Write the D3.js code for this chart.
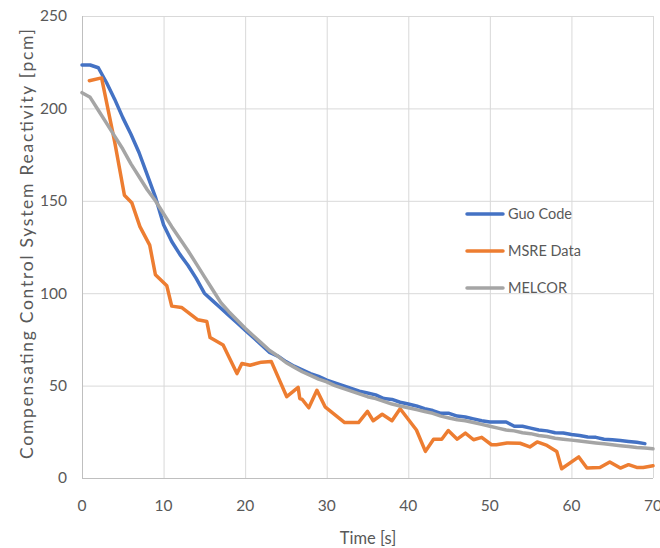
<!DOCTYPE html>
<html>
<head>
<meta charset="utf-8">
<script src="https://cdn.jsdelivr.net/npm/d3@7"></script>
<style>
  body { margin: 0; background: #fff; }
  text { font-family: Lato, "Open Sans", sans-serif; fill: #595959; }
</style>
</head>
<body>
<div id="chart"></div>
<script>
// Guo Code, sampled every second
const guoTime = d3.range(0, 70);
const guoValues = [223.5, 223.5, 222, 214, 205, 195, 186, 176, 164, 152,
  137, 128, 121, 115, 108, 100, 96, 92, 88, 84,
  80, 76, 72, 68, 66, 63, 60.5, 58.5, 56.5, 55,
  53, 51.5, 50, 48.5, 47, 46, 45, 43, 42.5, 41,
  40, 39, 37.5, 36.5, 35, 35, 33.5, 33, 32, 31,
  30.3, 30.3, 30.3, 28, 28, 27, 26, 25.5, 24.5, 24.3,
  23.5, 23, 22.2, 22, 21, 20.7, 20.3, 19.8, 19.3, 18.6];

// MELCOR
const melcorTime = d3.range(0, 71);
const melcorValues = [208.5, 206, 199, 192, 185, 178, 170, 163, 156, 150,
  143, 136, 129.5, 123, 116, 109, 102, 95, 90, 85.5,
  81, 77, 73, 69, 66, 62.5, 60, 57.5, 55.5, 53.5,
  52, 50, 48.5, 47, 45.5, 44, 43, 41.5, 40, 39,
  38, 37, 36, 35, 33.5, 32.5, 31.5, 31, 30, 29,
  28, 27, 26, 25.5, 24.5, 24, 23, 22.5, 21.5, 21,
  20.5, 20, 19.5, 19, 18.5, 18, 17.5, 17, 16.5, 16.2, 15.8];

// MSRE Data (irregular sampling)
const msreTime = [0.9, 2.4, 4.0, 5.2, 6.1, 7.1, 8.3, 9.0, 10.4, 11.0,
  12.2, 14.2, 15.3, 15.7, 17.3, 19.0, 19.6, 20.6, 22.0, 23.2,
  25.1, 26.5, 26.7, 27.0, 27.8, 28.8, 29.8, 32.2, 33.9, 35.0,
  35.7, 36.8, 38.0, 39.0, 41.0, 42.1, 43.1, 44.1, 44.9, 46.0,
  47.0, 48.0, 49.0, 50.2, 50.8, 52.1, 53.7, 54.9, 55.8, 57.0,
  58.2, 58.8, 60.9, 61.9, 63.5, 64.7, 66.0, 67.0, 68.0, 68.8, 70.0];
const msreValues = [215, 216.5, 182, 153, 149, 136, 126, 110, 104, 93,
  92.3, 85.6, 84.7, 76, 72, 56.5, 62, 61, 62.7, 63.1,
  44, 49, 43, 42.5, 38, 47.5, 38.5, 30, 30, 36,
  31, 34.5, 31, 37.5, 26, 14.4, 21, 21, 25.7, 21,
  24.3, 20.7, 22, 18, 18, 18.9, 18.8, 16.8, 19.5, 17.6,
  14.4, 5, 11.4, 5.4, 5.7, 8.7, 5.4, 7.2, 5.7, 5.7, 6.6];

const xTicks = [0, 10, 20, 30, 40, 50, 60, 70];
const yTicks = [0, 50, 100, 150, 200, 250];

const series = [
  { name: "Guo Code", color: "#4472C4", time: guoTime, values: guoValues },
  { name: "MSRE Data", color: "#ED7D31", time: msreTime, values: msreValues },
  { name: "MELCOR", color: "#A5A5A5", time: melcorTime, values: melcorValues }
];

const W = 660, H = 548;
const margin = { left: 82, right: 8, top: 16, bottom: 70 };

const svg = d3.select("#chart").append("svg")
  .attr("width", W)
  .attr("height", H);

const x = d3.scaleLinear().domain([0, 70]).range([margin.left, 653]);
const y = d3.scaleLinear().domain([0, 250]).range([478, margin.top]);

// gridlines
svg.append("g")
  .selectAll("line.h")
  .data(yTicks)
  .enter().append("line")
    .attr("x1", x(0)).attr("x2", x(70))
    .attr("y1", d => y(d) + 0.5).attr("y2", d => y(d) + 0.5)
    .attr("stroke", d => d === 0 ? "#bfbfbf" : "#d9d9d9");

svg.append("g")
  .selectAll("line.v")
  .data(xTicks)
  .enter().append("line")
    .attr("x1", d => x(d) + 0.5).attr("x2", d => x(d) + 0.5)
    .attr("y1", y(0)).attr("y2", y(250))
    .attr("stroke", d => d === 0 ? "#bfbfbf" : "#d9d9d9");

// tick labels
svg.append("g")
  .selectAll("text")
  .data(yTicks)
  .enter().append("text")
    .attr("x", x(0) - 15)
    .attr("y", d => y(d))
    .attr("dy", "0.35em")
    .attr("text-anchor", "end")
    .attr("font-size", 15.5)
    .text(d => d);

svg.append("g")
  .selectAll("text")
  .data(xTicks)
  .enter().append("text")
    .attr("x", d => x(d))
    .attr("y", 506)
    .attr("dy", "0.35em")
    .attr("text-anchor", "middle")
    .attr("font-size", 15.5)
    .text(d => d);

// axis titles
svg.append("text")
  .attr("x", 368)
  .attr("y", 538)
  .attr("dy", "0.35em")
  .attr("text-anchor", "middle")
  .attr("font-size", 16.5)
  .text("Time [s]");

svg.append("text")
  .attr("transform", "translate(27," + 244 + ") rotate(-90)")
  .attr("dy", "0.35em")
  .attr("text-anchor", "middle")
  .attr("font-size", 17.5)
  .attr("textLength", 430)
  .attr("lengthAdjust", "spacing")
  .text("Compensating Control System Reactivity [pcm]");

// lines
const line = d3.line()
  .x(d => x(d[0]))
  .y(d => y(d[1]));

// draw order: Guo, MSRE, MELCOR on top
series.forEach(s => {
  svg.append("path")
    .datum(s.time.map((t, i) => [t, s.values[i]]))
    .attr("fill", "none")
    .attr("stroke", s.color)
    .attr("stroke-width", 3.5)
    .attr("stroke-linejoin", "round")
    .attr("stroke-linecap", "round")
    .attr("d", line);
});

// legend
const legend = svg.append("g")
  .selectAll("g")
  .data(series)
  .enter().append("g")
    .attr("transform", (d, i) => "translate(467," + (214 + i * 37) + ")");

legend.append("line")
  .attr("x1", 0).attr("x2", 36)
  .attr("stroke", d => d.color)
  .attr("stroke-width", 3.5)
  .attr("stroke-linecap", "round");

legend.append("text")
  .attr("x", 41)
  .attr("dy", "0.35em")
  .attr("font-size", 14.5)
  .text(d => d.name);
</script>
</body>
</html>
